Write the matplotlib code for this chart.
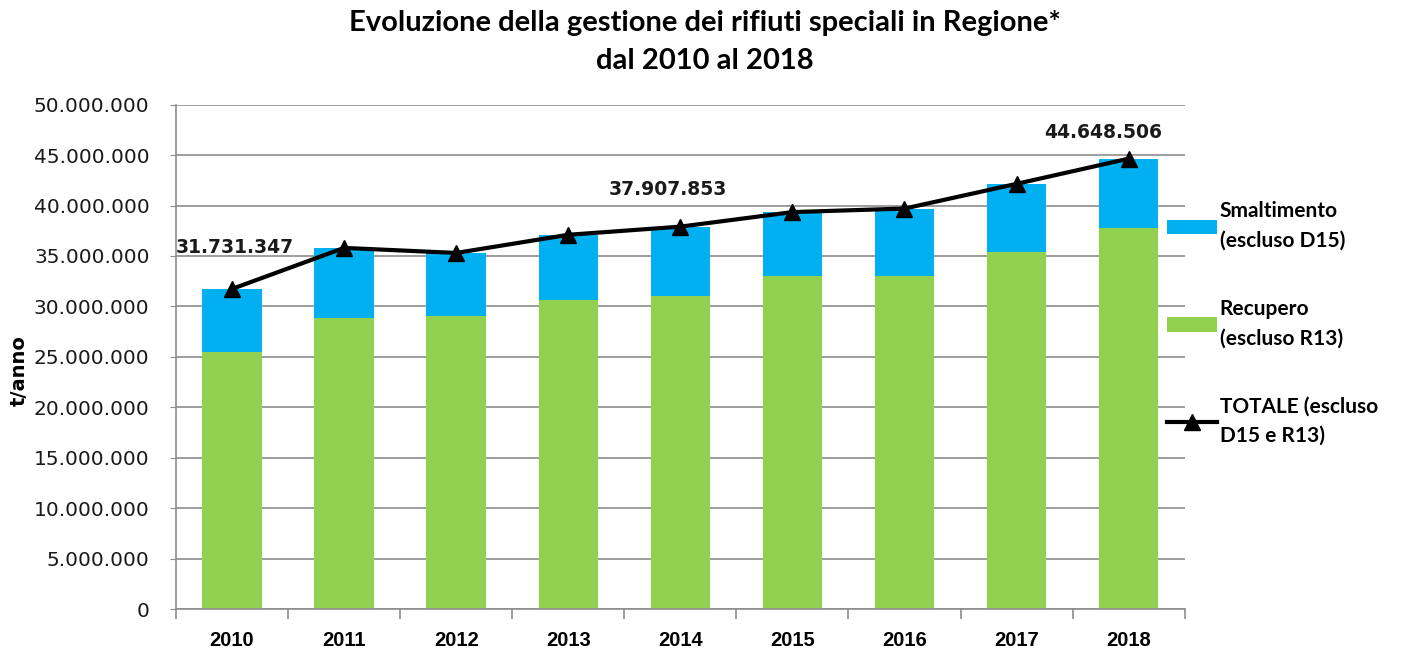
import matplotlib.pyplot as plt
import numpy as np
from matplotlib.ticker import FuncFormatter

anni = ["2010", "2011", "2012", "2013", "2014", "2015", "2016", "2017", "2018"]
recupero = [25.5, 28.85, 29.0, 30.6, 31.05, 33.0, 33.0, 35.35, 37.8]  # milioni t
totale = [31.731347, 35.8, 35.3, 37.1, 37.907853, 39.35, 39.7, 42.15, 44.648506]
smaltimento = [t - r for t, r in zip(totale, recupero)]

etichette = {0: "31.731.347", 4: "37.907.853", 8: "44.648.506"}
offset_etichette = {0: (2, 23), 4: (-9, 20), 8: (-18, 12)}

blu = "#00B0F0"
verde = "#92D050"
grigio = "#8C8C8C"

fig = plt.figure(figsize=(14.02, 6.55), dpi=100)
ax = fig.add_axes([0.1255, 0.0702, 0.7195, 0.770])

x = np.arange(len(anni))
scala = 1e6
rec = np.array(recupero) * scala
sma = np.array(smaltimento) * scala
tot = np.array(totale) * scala

b_rec = ax.bar(x, rec, width=0.53, color=verde, zorder=2)
b_sma = ax.bar(x, sma, width=0.53, bottom=rec, color=blu, zorder=2)
l_tot, = ax.plot(x, tot, color="black", linewidth=3, marker="^", markersize=12, zorder=3)

for i, testo in etichette.items():
    ax.annotate(testo, (x[i], tot[i]), xytext=offset_etichette[i], textcoords="offset points",
                ha="center", va="bottom", fontsize=13.5, fontweight="bold", color="#1a1a1a")

ax.set_xlim(-0.5, len(anni) - 0.5)
ax.set_ylim(0, 50e6)
ax.set_yticks(np.arange(0, 50e6 + 1, 5e6))
ax.yaxis.set_major_formatter(FuncFormatter(lambda v, p: f"{int(v):,}".replace(",", ".")))
ax.tick_params(axis="y", labelsize=14.5, length=4, color=grigio, direction="out", pad=15,
               labelcolor="#1a1a1a")
ax.grid(axis="y", color=grigio, linewidth=1.2, zorder=0)

ax.set_xticks(x)
ax.set_xticklabels(anni, fontsize=14.5, fontweight="bold", family="Liberation Sans")
ax.set_xticks(np.arange(-0.5, len(anni)), minor=True)
ax.tick_params(axis="x", which="major", length=0, pad=16)
ax.tick_params(axis="x", which="minor", length=7, color=grigio, width=1.2)

for s in ["top", "right"]:
    ax.spines[s].set_visible(False)
ax.spines["left"].set_color(grigio)
ax.spines["bottom"].set_color(grigio)
ax.spines["left"].set_linewidth(1.2)
ax.spines["bottom"].set_linewidth(1.2)

ax.set_ylabel("t/anno", fontsize=14, fontweight="bold")
ax.yaxis.set_label_coords(-0.146, 0.472)

fig.suptitle("Evoluzione della gestione dei rifiuti speciali in Regione*\ndal 2010 al 2018",
             x=0.503, y=0.984, fontsize=21, fontweight="bold", family="Lato", linespacing=1.55)

leg = fig.legend([b_sma, b_rec, l_tot],
                 ["Smaltimento\n(escluso D15)", "Recupero\n(escluso R13)", "TOTALE (escluso\nD15 e R13)"],
                 loc="upper left", bbox_to_anchor=(0.8187, 0.721), frameon=False,
                 prop={"family": "Lato", "weight": "bold", "size": 15},
                 labelspacing=2.3, handlelength=2.4, handletextpad=0.15)
for t in leg.get_texts():
    t.set_linespacing(1.6)

plt.savefig("out.png", dpi=100)
plt.close()
